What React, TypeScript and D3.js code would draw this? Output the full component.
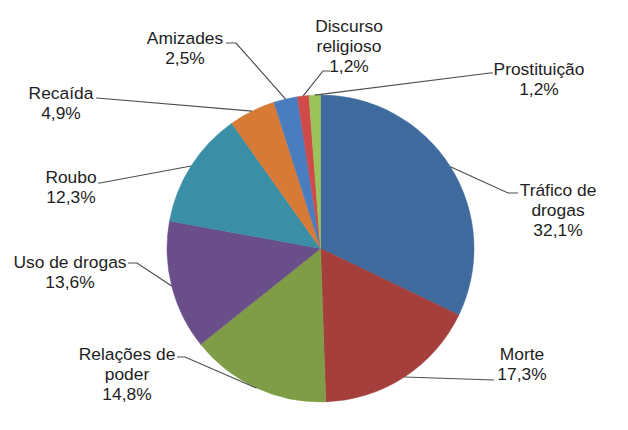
import React from "react";
import * as d3 from "d3";

const categories = [
  "Tráfico de drogas",
  "Morte",
  "Relações de poder",
  "Uso de drogas",
  "Roubo",
  "Recaída",
  "Amizades",
  "Discurso religioso",
  "Prostituição",
];
const values = [32.1, 17.3, 14.8, 13.6, 12.3, 4.9, 2.5, 1.2, 1.2];
const valueLabels = ["32,1%", "17,3%", "14,8%", "13,6%", "12,3%", "4,9%", "2,5%", "1,2%", "1,2%"];
const labelLines = [
  ["Tráfico de", "drogas"],
  ["Morte"],
  ["Relações de", "poder"],
  ["Uso de drogas"],
  ["Roubo"],
  ["Recaída"],
  ["Amizades"],
  ["Discurso", "religioso"],
  ["Prostituição"],
];
const colors = [
  "#3e6a9e",
  "#a43f3c",
  "#7f9c46",
  "#6a4e8a",
  "#3a8ea5",
  "#d67a35",
  "#4a7dc0",
  "#cf4a49",
  "#9bc25b",
];

// label layout: text centre x, first baseline y, leader elbow (ex, ey), leader end x (hx)
const labelLayout = [
  { x: 558, y: 196, ex: 508, ey: 193, hx: 518 },
  { x: 522, y: 360, ex: 494, ey: 380, hx: 494 },
  { x: 127, y: 360, ex: 185, ey: 357, hx: 177 },
  { x: 70, y: 268, ex: 137, ey: 263, hx: 128 },
  { x: 71, y: 183, ex: 100, ey: 183, hx: 98 },
  { x: 61, y: 99, ex: 97, ey: 98, hx: 96 },
  { x: 185, y: 44, ex: 236, ey: 43, hx: 226 },
  { x: 349, y: 32, ex: 323, ey: 71, hx: 330 },
  { x: 539, y: 75, ex: 490, ey: 73, hx: 493 },
];

const W = 628;
const H = 430;
const cx = 320.5;
const cy = 248.5;
const R = 153.5;
const lineH = 20;

export default function App() {
  const pie = d3
    .pie<number>()
    .value((d) => d)
    .sort(null)
    .startAngle(0)
    .endAngle(2 * Math.PI);
  const arcs = pie(values);
  const arc = d3.arc<d3.PieArcDatum<number>>().innerRadius(0).outerRadius(R);

  return (
    <svg
      width={W}
      height={H}
      style={{ position: "absolute", left: 0, top: 0, background: "#fff" }}
      fontFamily="'Liberation Sans', Arial, sans-serif"
    >
      <g transform={`translate(${cx},${cy})`}>
        {arcs.map((a, i) => (
          <path key={i} d={arc(a) || ""} fill={colors[i]} stroke={colors[i]} strokeWidth={0.5} />
        ))}
      </g>
      {arcs.map((a, i) => {
        const mid = (a.startAngle + a.endAngle) / 2;
        const sx = cx + R * Math.sin(mid);
        const sy = cy - R * Math.cos(mid);
        const L = labelLayout[i];
        const pts = [
          [sx, sy],
          [L.ex, L.ey],
          [L.hx, L.ey],
        ];
        return (
          <polyline
            key={"l" + i}
            points={pts.map((p) => p.join(",")).join(" ")}
            fill="none"
            stroke="#4d4d4d"
            strokeWidth={1.2}
          />
        );
      })}
      {labelLayout.map((L, i) => {
        const lines = [...labelLines[i], valueLabels[i]];
        return (
          <text key={"t" + i} x={L.x} y={L.y} textAnchor="middle" fontSize={17.4} fill="#1e1e1e">
            {lines.map((t, j) => (
              <tspan key={j} x={L.x} y={L.y + j * lineH}>
                {t}
              </tspan>
            ))}
          </text>
        );
      })}
    </svg>
  );
}
